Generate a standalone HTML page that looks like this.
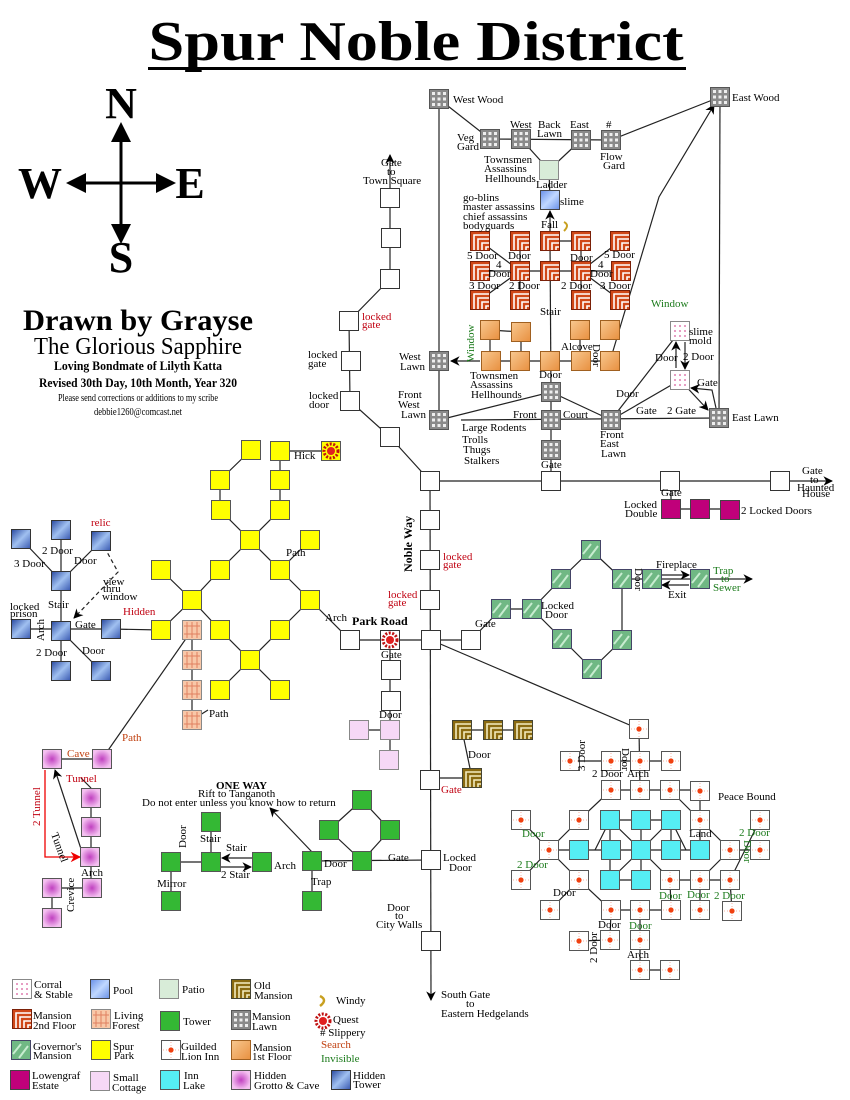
<!DOCTYPE html>
<html><head><meta charset="utf-8"><style>
body{margin:0;background:#fff}
svg{display:block}
text{font-family:"Liberation Serif",serif;font-size:11px;fill:#000}
.r{fill:#c00010}.g{fill:#1a7a1a}.o{fill:#c04010}
</style></head><body>
<svg width="850" height="1100" viewBox="0 0 850 1100" xmlns="http://www.w3.org/2000/svg">
<defs>
<marker id="ar" viewBox="0 0 10 10" refX="9" refY="5" markerWidth="8" markerHeight="8" orient="auto-start-reverse"><path d="M0 0L10 5L0 10L3 5z" fill="#000"/></marker>
<marker id="arr" viewBox="0 0 10 10" refX="9" refY="5" markerWidth="8" markerHeight="8" orient="auto"><path d="M0 0L10 5L0 10L3 5z" fill="#e00"/></marker>
<linearGradient id="gm1" x1="0" y1="0" x2="1" y2="1"><stop offset="0" stop-color="#f8c890"/><stop offset="1" stop-color="#e89040"/></linearGradient>
<linearGradient id="ght" x1="0" y1="0" x2="1" y2="1"><stop offset="0" stop-color="#2848a0"/><stop offset=".5" stop-color="#a0c0f0"/><stop offset="1" stop-color="#3858b0"/></linearGradient>
<linearGradient id="gpo" x1="0" y1="0" x2="1" y2="1"><stop offset="0" stop-color="#6890e8"/><stop offset=".5" stop-color="#c0d8ff"/><stop offset="1" stop-color="#6890e8"/></linearGradient>
<radialGradient id="ggr"><stop offset="0" stop-color="#c040c0"/><stop offset="1" stop-color="#f4c0f0"/></radialGradient>
<symbol id="wh" viewBox="0 0 20 20" width="20" height="20"><rect x=".5" y=".5" width="19" height="19" fill="#fff" stroke="#333"/></symbol>
<symbol id="lawn" viewBox="0 0 20 20" width="20" height="20"><rect x=".5" y=".5" width="19" height="19" fill="#8a8a8a" stroke="#555"/><g fill="#eee"><rect x="3" y="3" width="3" height="3"/><rect x="8.5" y="3" width="3" height="3"/><rect x="14" y="3" width="3" height="3"/><rect x="3" y="8.5" width="3" height="3"/><rect x="8.5" y="8.5" width="3" height="3"/><rect x="14" y="8.5" width="3" height="3"/><rect x="3" y="14" width="3" height="3"/><rect x="8.5" y="14" width="3" height="3"/><rect x="14" y="14" width="3" height="3"/></g></symbol>
<symbol id="m2" viewBox="0 0 20 20" width="20" height="20"><rect x=".5" y=".5" width="19" height="19" fill="#d04818" stroke="#7a2008"/><path d="M4 19V4H19M8 19V8H19M12 19V12H19M16 19V16H19" stroke="#fff" stroke-width="1.6" fill="none"/></symbol>
<symbol id="old" viewBox="0 0 20 20" width="20" height="20"><rect x=".5" y=".5" width="19" height="19" fill="#8a6a10" stroke="#443"/><path d="M4 19V4H19M8 19V8H19M12 19V12H19M16 19V16H19" stroke="#f4ecc0" stroke-width="1.6" fill="none"/></symbol>
<symbol id="m1" viewBox="0 0 20 20" width="20" height="20"><rect x=".5" y=".5" width="19" height="19" fill="url(#gm1)" stroke="#a06020"/></symbol>
<symbol id="gov" viewBox="0 0 20 20" width="20" height="20"><rect x=".5" y=".5" width="19" height="19" fill="#70b884" stroke="#446"/><path d="M2 14L10 4M8 18L17 6" stroke="#c8ecd0" stroke-width="2"/></symbol>
<symbol id="yel" viewBox="0 0 20 20" width="20" height="20"><rect x=".5" y=".5" width="19" height="19" fill="#ffff00" stroke="#555"/></symbol>
<symbol id="tow" viewBox="0 0 20 20" width="20" height="20"><rect x=".5" y=".5" width="19" height="19" fill="#34b834" stroke="#555"/></symbol>
<symbol id="inn" viewBox="0 0 20 20" width="20" height="20"><rect x=".5" y=".5" width="19" height="19" fill="#fff" stroke="#555"/><path d="M10 2V18M2 10H18" stroke="#f8b0a0" stroke-dasharray="1 2"/><circle cx="10" cy="10" r="2.6" fill="#f04010"/></symbol>
<symbol id="lake" viewBox="0 0 20 20" width="20" height="20"><rect x=".5" y=".5" width="19" height="19" fill="#55eef4" stroke="#555"/></symbol>
<symbol id="grot" viewBox="0 0 20 20" width="20" height="20"><rect x=".5" y=".5" width="19" height="19" fill="url(#ggr)" stroke="#555"/></symbol>
<symbol id="cot" viewBox="0 0 20 20" width="20" height="20"><rect x=".5" y=".5" width="19" height="19" fill="#f6d8f6" stroke="#888"/></symbol>
<symbol id="ht" viewBox="0 0 20 20" width="20" height="20"><rect x=".5" y=".5" width="19" height="19" fill="url(#ght)" stroke="#333"/></symbol>
<symbol id="lf" viewBox="0 0 20 20" width="20" height="20"><rect x=".5" y=".5" width="19" height="19" fill="#f8c8a8" stroke="#888"/><path d="M5 2V18M10 2V18M15 2V18M2 6H18M2 14H18" stroke="#e08060" fill="none"/></symbol>
<symbol id="cor" viewBox="0 0 20 20" width="20" height="20"><rect x=".5" y=".5" width="19" height="19" fill="#fff" stroke="#888"/><g fill="#e080b0"><circle cx="5" cy="5" r="1"/><circle cx="10" cy="5" r="1"/><circle cx="15" cy="5" r="1"/><circle cx="5" cy="10" r="1"/><circle cx="10" cy="10" r="1"/><circle cx="15" cy="10" r="1"/><circle cx="5" cy="15" r="1"/><circle cx="10" cy="15" r="1"/><circle cx="15" cy="15" r="1"/></g></symbol>
<symbol id="low" viewBox="0 0 20 20" width="20" height="20"><rect x=".5" y=".5" width="19" height="19" fill="#c0007a" stroke="#444"/></symbol>
<symbol id="pool" viewBox="0 0 20 20" width="20" height="20"><rect x=".5" y=".5" width="19" height="19" fill="url(#gpo)" stroke="#444"/></symbol>
<symbol id="pat" viewBox="0 0 20 20" width="20" height="20"><rect x=".5" y=".5" width="19" height="19" fill="#d8ecd8" stroke="#888"/></symbol>
<symbol id="sun" viewBox="0 0 20 20" width="20" height="20"><circle cx="10" cy="10" r="7" fill="none" stroke="#c01010" stroke-width="3" stroke-dasharray="2 1.5"/><circle cx="10" cy="10" r="4" fill="#e02020"/></symbol>
</defs>

<!-- Title -->
<text x="416" y="60" text-anchor="middle" style="font-size:56px;font-weight:bold" textLength="535" lengthAdjust="spacingAndGlyphs">Spur Noble District</text>
<rect x="148" y="67" width="538" height="3" fill="#000"/>

<!-- Compass -->
<g stroke="#000" stroke-width="3" fill="none"><line x1="121" y1="136" x2="121" y2="230"/><line x1="76" y1="183" x2="166" y2="183"/></g>
<g fill="#000"><path d="M121 122L111 142H131z"/><path d="M121 244L111 224H131z"/><path d="M66 183L86 173V193z"/><path d="M176 183L156 173V193z"/></g>
<g style="font-size:44px;font-weight:bold" text-anchor="middle"><text x="121" y="118" style="font-size:44px;font-weight:bold">N</text><text x="40" y="198" style="font-size:44px;font-weight:bold">W</text><text x="190" y="198" style="font-size:44px;font-weight:bold">E</text><text x="121" y="272" style="font-size:44px;font-weight:bold">S</text></g>

<!-- Author block -->
<g text-anchor="middle">
<text x="138" y="330" style="font-size:30px;font-weight:bold" textLength="230" lengthAdjust="spacingAndGlyphs">Drawn by Grayse</text>
<text x="138" y="354" style="font-size:24px" textLength="208" lengthAdjust="spacingAndGlyphs">The Glorious Sapphire</text>
<text x="138" y="370" style="font-size:13px;font-weight:bold" textLength="168" lengthAdjust="spacingAndGlyphs">Loving Bondmate of Lilyth Katta</text>
<text x="138" y="387" style="font-size:13px;font-weight:bold" textLength="198" lengthAdjust="spacingAndGlyphs">Revised 30th Day, 10th Month, Year 320</text>
<text x="138" y="401" style="font-size:10px" textLength="160" lengthAdjust="spacingAndGlyphs">Please send corrections or additions to my scribe</text>
<text x="138" y="415" style="font-size:11px" textLength="88" lengthAdjust="spacingAndGlyphs">debbie1260@comcast.net</text>
</g>

<!-- Connectors -->
<g stroke="#222" stroke-width="1.2" fill="none">
<!-- Noble Way -->
<line x1="390" y1="155" x2="390" y2="279" marker-start="url(#ar)"/>
<polyline points="390,279 349,321 350,401 390,437 430,481"/>
<line x1="430" y1="481" x2="431" y2="1000" marker-end="url(#ar)"/>
<line x1="430" y1="481" x2="832" y2="481" marker-end="url(#ar)"/>
<line x1="350" y1="640" x2="471" y2="640"/>
<line x1="350" y1="640" x2="310" y2="600"/>
<line x1="390" y1="640" x2="390" y2="760"/>
<line x1="359" y1="730" x2="390" y2="730"/>
<line x1="431" y1="640" x2="639" y2="729"/>
<line x1="431" y1="778" x2="472" y2="778"/>
<line x1="472" y1="778" x2="462" y2="730"/>
<line x1="462" y1="730" x2="523" y2="730"/>
<line x1="312" y1="861" x2="431" y2="860"/>
<line x1="551" y1="481" x2="551" y2="450"/>
<line x1="671" y1="481" x2="671" y2="509"/>
<line x1="671" y1="509" x2="731" y2="509"/>
<!-- Mansion lawns -->
<line x1="439" y1="99" x2="439" y2="420"/>
<polyline points="439,99 490,139 611,140 720,97"/>
<polyline points="521,139 549,170 581,140"/>
<line x1="549" y1="170" x2="550" y2="200"/>
<line x1="550" y1="241" x2="550" y2="211" marker-end="url(#ar)"/>
<line x1="550" y1="241" x2="551" y2="392"/>
<line x1="720" y1="97" x2="719" y2="418"/>
<polyline points="439,420 551,392 611,420"/>
<line x1="461" y1="420" x2="719" y2="418"/>
<line x1="551" y1="392" x2="551" y2="450"/>
<line x1="611" y1="420" x2="680" y2="331"/>
<line x1="611" y1="420" x2="680" y2="380"/>
<line x1="680" y1="380" x2="708" y2="410" marker-end="url(#ar)"/>
<polyline points="716,408 712,390 691,388" marker-end="url(#ar)"/>
<line x1="676" y1="368" x2="676" y2="342" marker-end="url(#ar)"/>
<line x1="685" y1="342" x2="685" y2="369" marker-end="url(#ar)"/>
<polyline points="610,361 659,197 714,105" marker-end="url(#ar)"/>
<line x1="480" y1="361" x2="451" y2="361" marker-end="url(#ar)"/>
<!-- 2nd floor -->
<line x1="550" y1="241" x2="581" y2="241"/>
<line x1="480" y1="241" x2="520" y2="271"/><line x1="520" y1="241" x2="520" y2="300"/>
<line x1="581" y1="241" x2="581" y2="300"/><line x1="620" y1="241" x2="581" y2="271"/>
<line x1="480" y1="271" x2="620" y2="271"/>
<line x1="480" y1="300" x2="520" y2="271"/><line x1="620" y1="300" x2="581" y2="271"/>
<!-- 1st floor -->
<polyline points="490,361 490,330 521,332 521,361"/>
<line x1="580" y1="330" x2="580" y2="361"/>
<line x1="491" y1="361" x2="610" y2="361"/>
<!-- Gov mansion -->
<polyline points="471,640 501,609 532,609 561,579 591,550 622,579 622,640 592,669 562,639 532,609"/>
<line x1="622" y1="579" x2="700" y2="579"/>
<line x1="662" y1="575" x2="689" y2="575" marker-end="url(#ar)"/>
<line x1="689" y1="585" x2="662" y2="585" marker-end="url(#ar)"/>
<line x1="700" y1="579" x2="752" y2="579" marker-end="url(#ar)"/>
<!-- Spur park -->
<polyline points="251,450 220,480 220,510 250,540 280,510 280,451 331,451"/>
<polyline points="161,570 192,600 220,570 250,540 280,570 310,540"/>
<polyline points="280,570 310,600 280,630 250,660 220,630 192,600 161,630 111,629"/>
<polyline points="220,690 250,660 280,690"/>
<line x1="192" y1="630" x2="192" y2="720"/><line x1="192" y1="720" x2="208" y2="710"/>
<line x1="192" y1="630" x2="102" y2="759"/>
<!-- Hidden tower -->
<line x1="61" y1="530" x2="61" y2="671"/>
<line x1="21" y1="539" x2="61" y2="581"/><line x1="101" y1="541" x2="61" y2="581"/>
<line x1="21" y1="629" x2="111" y2="629"/><line x1="61" y1="631" x2="101" y2="671"/>
<polyline points="101,541 118,572 74,618" stroke-dasharray="4 3" marker-end="url(#ar)"/>
<!-- Grotto -->
<line x1="52" y1="759" x2="102" y2="759"/>
<line x1="91" y1="788" x2="91" y2="888"/>
<line x1="81" y1="778" x2="91" y2="788"/>
<line x1="82" y1="852" x2="55" y2="770" marker-end="url(#ar)"/>
<line x1="52" y1="888" x2="92" y2="888"/><line x1="52" y1="888" x2="52" y2="918"/>
<!-- Tower -->
<polyline points="362,861 329,830 362,800 390,830 362,861"/>
<line x1="312" y1="861" x2="312" y2="901"/>
<line x1="312" y1="852" x2="270" y2="808" marker-end="url(#ar)"/>
<line x1="211" y1="822" x2="211" y2="862"/>
<line x1="171" y1="862" x2="211" y2="862"/><line x1="171" y1="862" x2="171" y2="901"/>
<line x1="252" y1="858" x2="222" y2="858" marker-end="url(#ar)"/>
<line x1="221" y1="867" x2="251" y2="867" marker-end="url(#ar)"/>
<!-- Inn -->
<line x1="639" y1="729" x2="640" y2="790"/>
<line x1="570" y1="761" x2="671" y2="761"/>
<line x1="611" y1="790" x2="700" y2="790"/>
<polyline points="611,790 579,820 549,850 579,880 611,910 671,910"/>
<polyline points="670,790 700,820 730,850 700,880"/>
<line x1="700" y1="791" x2="700" y2="850"/>
<line x1="670" y1="880" x2="730" y2="880"/><line x1="730" y1="850" x2="760" y2="850"/><line x1="730" y1="880" x2="760" y2="820"/>
<line x1="521" y1="820" x2="549" y2="850"/><line x1="521" y1="880" x2="549" y2="850"/>
<line x1="549" y1="850" x2="579" y2="850"/>
<line x1="550" y1="910" x2="579" y2="880"/>
<line x1="670" y1="880" x2="671" y2="910"/><line x1="700" y1="880" x2="700" y2="910"/><line x1="730" y1="880" x2="732" y2="911"/>
<line x1="611" y1="910" x2="610" y2="940"/><line x1="640" y1="910" x2="640" y2="970"/>
<line x1="579" y1="941" x2="610" y2="940"/><line x1="640" y1="970" x2="670" y2="970"/>
<line x1="610" y1="820" x2="671" y2="820"/><line x1="579" y1="850" x2="700" y2="850"/><line x1="610" y1="880" x2="641" y2="880"/>
<line x1="610" y1="820" x2="610" y2="880"/><line x1="641" y1="820" x2="641" y2="880"/><line x1="671" y1="820" x2="671" y2="850"/>
<polyline points="595,850 610,820 641,850 610,880" /><polyline points="686,850 671,820 641,850 671,880"/>
</g>
<polyline points="45,770 45,857 80,857" stroke="#e00" stroke-width="1.3" fill="none" marker-end="url(#arr)"/>

<!-- Nodes -->
<g>
<use href="#wh" x="380" y="188"/><use href="#wh" x="381" y="228"/><use href="#wh" x="380" y="269"/>
<use href="#wh" x="339" y="311"/><use href="#wh" x="341" y="351"/><use href="#wh" x="340" y="391"/>
<use href="#wh" x="380" y="427"/><use href="#wh" x="420" y="471"/><use href="#wh" x="420" y="510"/>
<use href="#wh" x="420" y="550"/><use href="#wh" x="420" y="590"/><use href="#wh" x="421" y="630"/>
<use href="#wh" x="420" y="770"/><use href="#wh" x="421" y="850"/><use href="#wh" x="421" y="931"/>
<use href="#wh" x="541" y="471"/><use href="#wh" x="660" y="471"/><use href="#wh" x="770" y="471"/>
<use href="#wh" x="340" y="630"/><use href="#wh" x="380" y="630"/><use href="#sun" x="380" y="630"/>
<use href="#wh" x="461" y="630"/>
<use href="#wh" x="381" y="660"/><use href="#wh" x="381" y="691"/>
<use href="#cot" x="349" y="720"/><use href="#cot" x="380" y="720"/><use href="#cot" x="379" y="750"/>
<use href="#low" x="661" y="499"/><use href="#low" x="690" y="499"/><use href="#low" x="720" y="500"/>
<use href="#old" x="452" y="720"/><use href="#old" x="483" y="720"/><use href="#old" x="513" y="720"/><use href="#old" x="462" y="768"/>
<!-- gov -->
<use href="#gov" x="491" y="599"/><use href="#gov" x="522" y="599"/><use href="#gov" x="551" y="569"/><use href="#gov" x="581" y="540"/><use href="#gov" x="612" y="569"/><use href="#gov" x="642" y="569"/><use href="#gov" x="690" y="569"/><use href="#gov" x="552" y="629"/><use href="#gov" x="612" y="630"/><use href="#gov" x="582" y="659"/>
<!-- lawns -->
<use href="#lawn" x="429" y="89"/><use href="#lawn" x="710" y="87"/><use href="#lawn" x="480" y="129"/><use href="#lawn" x="511" y="129"/><use href="#lawn" x="571" y="130"/><use href="#lawn" x="601" y="130"/>
<use href="#pat" x="539" y="160"/><use href="#pool" x="540" y="190"/>
<use href="#lawn" x="429" y="351"/><use href="#lawn" x="541" y="382"/><use href="#lawn" x="429" y="410"/><use href="#lawn" x="541" y="410"/><use href="#lawn" x="541" y="440"/><use href="#lawn" x="601" y="410"/><use href="#lawn" x="709" y="408"/>
<use href="#cor" x="670" y="321"/><use href="#cor" x="670" y="370"/>
<!-- mansion 2 -->
<use href="#m2" x="470" y="231"/><use href="#m2" x="510" y="231"/><use href="#m2" x="540" y="231"/><use href="#m2" x="571" y="231"/><use href="#m2" x="610" y="231"/>
<use href="#m2" x="470" y="261"/><use href="#m2" x="510" y="261"/><use href="#m2" x="540" y="261"/><use href="#m2" x="571" y="261"/><use href="#m2" x="611" y="261"/>
<use href="#m2" x="470" y="290"/><use href="#m2" x="510" y="290"/><use href="#m2" x="571" y="290"/><use href="#m2" x="610" y="290"/>
<!-- mansion 1 -->
<use href="#m1" x="480" y="320"/><use href="#m1" x="511" y="322"/><use href="#m1" x="570" y="320"/><use href="#m1" x="600" y="320"/>
<use href="#m1" x="481" y="351"/><use href="#m1" x="510" y="351"/><use href="#m1" x="540" y="351"/><use href="#m1" x="571" y="351"/><use href="#m1" x="600" y="351"/>
<!-- park -->
<use href="#yel" x="241" y="440"/><use href="#yel" x="270" y="441"/><use href="#yel" x="321" y="441"/><use href="#sun" x="321" y="441"/>
<use href="#yel" x="210" y="470"/><use href="#yel" x="270" y="470"/><use href="#yel" x="211" y="500"/><use href="#yel" x="270" y="500"/>
<use href="#yel" x="240" y="530"/><use href="#yel" x="300" y="530"/>
<use href="#yel" x="151" y="560"/><use href="#yel" x="210" y="560"/><use href="#yel" x="270" y="560"/>
<use href="#yel" x="182" y="590"/><use href="#yel" x="300" y="590"/>
<use href="#yel" x="151" y="620"/><use href="#yel" x="210" y="620"/><use href="#yel" x="270" y="620"/>
<use href="#yel" x="240" y="650"/><use href="#yel" x="210" y="680"/><use href="#yel" x="270" y="680"/>
<use href="#lf" x="182" y="620"/><use href="#lf" x="182" y="650"/><use href="#lf" x="182" y="680"/><use href="#lf" x="182" y="710"/>
<!-- hidden tower -->
<use href="#ht" x="11" y="529"/><use href="#ht" x="51" y="520"/><use href="#ht" x="91" y="531"/><use href="#ht" x="51" y="571"/><use href="#ht" x="11" y="619"/><use href="#ht" x="51" y="621"/><use href="#ht" x="101" y="619"/><use href="#ht" x="51" y="661"/><use href="#ht" x="91" y="661"/>
<!-- grotto -->
<use href="#grot" x="42" y="749"/><use href="#grot" x="92" y="749"/><use href="#grot" x="81" y="788"/><use href="#grot" x="81" y="817"/><use href="#grot" x="80" y="847"/><use href="#grot" x="42" y="878"/><use href="#grot" x="82" y="878"/><use href="#grot" x="42" y="908"/>
<!-- tower -->
<use href="#tow" x="352" y="790"/><use href="#tow" x="319" y="820"/><use href="#tow" x="380" y="820"/><use href="#tow" x="352" y="851"/><use href="#tow" x="302" y="851"/><use href="#tow" x="252" y="852"/><use href="#tow" x="201" y="852"/><use href="#tow" x="161" y="852"/><use href="#tow" x="201" y="812"/><use href="#tow" x="161" y="891"/><use href="#tow" x="302" y="891"/>
<!-- inn -->
<use href="#inn" x="629" y="719"/>
<use href="#inn" x="560" y="751"/><use href="#inn" x="601" y="751"/><use href="#inn" x="630" y="751"/><use href="#inn" x="661" y="751"/>
<use href="#inn" x="601" y="780"/><use href="#inn" x="630" y="780"/><use href="#inn" x="660" y="780"/><use href="#inn" x="690" y="781"/>
<use href="#inn" x="511" y="810"/><use href="#inn" x="569" y="810"/><use href="#inn" x="690" y="810"/><use href="#inn" x="750" y="810"/>
<use href="#inn" x="539" y="840"/><use href="#inn" x="720" y="840"/><use href="#inn" x="750" y="840"/>
<use href="#inn" x="511" y="870"/><use href="#inn" x="569" y="870"/><use href="#inn" x="660" y="870"/><use href="#inn" x="690" y="870"/><use href="#inn" x="720" y="870"/>
<use href="#inn" x="540" y="900"/><use href="#inn" x="601" y="900"/><use href="#inn" x="630" y="900"/><use href="#inn" x="661" y="900"/><use href="#inn" x="690" y="900"/><use href="#inn" x="722" y="901"/>
<use href="#inn" x="569" y="931"/><use href="#inn" x="600" y="930"/><use href="#inn" x="630" y="930"/>
<use href="#inn" x="630" y="960"/><use href="#inn" x="660" y="960"/>
<use href="#lake" x="600" y="810"/><use href="#lake" x="631" y="810"/><use href="#lake" x="661" y="810"/>
<use href="#lake" x="569" y="840"/><use href="#lake" x="601" y="840"/><use href="#lake" x="631" y="840"/><use href="#lake" x="661" y="840"/><use href="#lake" x="690" y="840"/>
<use href="#lake" x="600" y="870"/><use href="#lake" x="631" y="870"/>
</g>

<!-- Labels -->
<g>
<text x="453" y="103">West Wood</text><text x="732" y="101">East Wood</text>
<text x="457" y="141">Veg</text><text x="457" y="150">Gard</text>
<text x="510" y="128">West</text><text x="538" y="128">Back</text><text x="537" y="137">Lawn</text><text x="570" y="128">East</text><text x="606" y="128">#</text>
<text x="600" y="160">Flow</text><text x="603" y="169">Gard</text>
<text x="484" y="163">Townsmen</text><text x="484" y="172">Assassins</text><text x="485" y="182">Hellhounds</text>
<text x="536" y="188">Ladder</text><text x="560" y="205">slime</text>
<text x="463" y="201">go-blins</text><text x="463" y="210">master assassins</text><text x="463" y="220">chief assassins</text><text x="463" y="229">bodyguards</text>
<text x="541" y="228">Fall</text><path d="M564 222q6 3 0 9" stroke="#c8a020" stroke-width="2" fill="none"/>
<text x="467" y="259">5 Door</text><text x="508" y="259">Door</text><text x="570" y="261">Door</text><text x="604" y="258">5 Door</text>
<text x="496" y="268">4</text><text x="488" y="277">Door</text><text x="598" y="268">4</text><text x="590" y="277">Door</text>
<text x="469" y="289">3 Door</text><text x="509" y="289">2 Door</text><text x="561" y="289">2 Door</text><text x="600" y="289">3 Door</text>
<text x="540" y="315">Stair</text><text x="561" y="350">Alcove</text>
<text x="651" y="307" class="g">Window</text>
<text x="689" y="335">slime</text><text x="689" y="344">mold</text>
<text x="655" y="361">Door</text><text x="683" y="360">2 Door</text><text x="697" y="386">Gate</text>
<text x="616" y="397">Door</text><text x="636" y="414">Gate</text><text x="667" y="414">2 Gate</text><text x="732" y="421">East Lawn</text>
<text x="399" y="360">West</text><text x="400" y="370">Lawn</text>
<text x="398" y="398">Front</text><text x="398" y="408">West</text><text x="401" y="418">Lawn</text>
<text x="470" y="379">Townsmen</text><text x="470" y="388">Assassins</text><text x="471" y="398">Hellhounds</text>
<text x="539" y="378">Door</text>
<text x="513" y="418">Front</text><text x="563" y="418">Court</text>
<text x="600" y="438">Front</text><text x="600" y="447">East</text><text x="601" y="457">Lawn</text>
<text x="462" y="431">Large Rodents</text><text x="462" y="443">Trolls</text><text x="463" y="453">Thugs</text><text x="464" y="464">Stalkers</text>
<text x="541" y="468">Gate</text>
<text transform="translate(474,362) rotate(-90)" class="g">Window</text>
<text transform="translate(593,344) rotate(90)">Door</text>
<text x="381" y="166">Gate</text><text x="387" y="175">to</text><text x="363" y="184">Town Square</text>
<text x="362" y="320" class="r">locked</text><text x="362" y="328" class="r">gate</text>
<text x="308" y="358">locked</text><text x="308" y="367">gate</text>
<text x="309" y="399">locked</text><text x="309" y="408">door</text>
<text x="443" y="560" class="r">locked</text><text x="443" y="568" class="r">gate</text>
<text x="388" y="598" class="r">locked</text><text x="388" y="606" class="r">gate</text>
<text transform="translate(412,572) rotate(-90)" style="font-weight:bold;font-size:12px">Noble Way</text>
<text x="802" y="474">Gate</text><text x="810" y="483">to</text><text x="797" y="491">Haunted</text><text x="802" y="497">House</text>
<text x="661" y="496">Gate</text>
<text x="624" y="508">Locked</text><text x="625" y="517">Double</text><text x="741" y="514">2 Locked Doors</text>
<text x="541" y="609">Locked</text><text x="545" y="618">Door</text>
<text x="475" y="627">Gate</text>
<text x="656" y="568">Fireplace</text><text x="668" y="598">Exit</text>
<text x="713" y="574" class="g">Trap</text><text x="721" y="582" class="g">to</text><text x="713" y="591" class="g">Sewer</text>
<text transform="translate(635,568) rotate(90)">Door</text>
<text x="325" y="621">Arch</text><text x="352" y="625" style="font-weight:bold;font-size:12px">Park Road</text>
<text x="381" y="658">Gate</text><text x="379" y="718">Door</text>
<text x="294" y="459">Hick</text><text x="286" y="556">Path</text><text x="209" y="717">Path</text>
<text x="123" y="615" class="r">Hidden</text><text x="122" y="741" class="o">Path</text>
<text x="91" y="526" class="r">relic</text>
<text x="42" y="554">2 Door</text><text x="14" y="567">3 Door</text><text x="74" y="564">Door</text>
<text x="48" y="608">Stair</text>
<text x="103" y="585">view</text><text x="103" y="592">thru</text><text x="102" y="600">window</text>
<text x="10" y="610">locked</text><text x="10" y="617">prison</text>
<text transform="translate(44,641) rotate(-90)">Arch</text>
<text x="75" y="628">Gate</text><text x="36" y="656">2 Door</text><text x="82" y="654">Door</text>
<text x="67" y="757" class="o">Cave</text><text x="66" y="782" class="r">Tunnel</text>
<text transform="translate(40,826) rotate(-90)" class="r">2 Tunnel</text>
<text transform="translate(51,834) rotate(70)">Tunnel</text>
<text x="81" y="876">Arch</text>
<text transform="translate(74,912) rotate(-90)">Crevice</text>
<text x="216" y="789" style="font-weight:bold">ONE WAY</text>
<text x="198" y="797">Rift to Tanganoth</text>
<text x="142" y="806">Do not enter unless you know how to return</text>
<text x="200" y="842">Stair</text><text x="226" y="851">Stair</text>
<text x="221" y="878">2 Stair</text><text x="274" y="869">Arch</text>
<text transform="translate(186,848) rotate(-90)">Door</text>
<text x="157" y="887">Mirror</text><text x="324" y="867">Door</text><text x="311" y="885">Trap</text>
<text x="388" y="861">Gate</text>
<text x="443" y="861">Locked</text><text x="449" y="871">Door</text>
<text x="387" y="911">Door</text><text x="395" y="919">to</text><text x="376" y="928">City Walls</text>
<text x="441" y="998">South Gate</text><text x="466" y="1007">to</text><text x="441" y="1017">Eastern Hedgelands</text>
<text x="468" y="758">Door</text><text x="441" y="793" class="r">Gate</text>
<text transform="translate(585,771) rotate(-90)">3 Door</text>
<text transform="translate(622,748) rotate(90)">Door</text>
<text x="592" y="777">2 Door</text><text x="627" y="777">Arch</text>
<text x="718" y="800">Peace Bound</text><text x="689" y="837">Land</text>
<text x="522" y="837" class="g">Door</text><text x="517" y="868" class="g">2 Door</text>
<text x="739" y="836" class="g">2 Door</text>
<text transform="translate(744,840) rotate(90)" class="g">Door</text>
<text x="659" y="899" class="g">Door</text><text x="687" y="898" class="g">Door</text><text x="714" y="899" class="g">2 Door</text>
<text x="553" y="896">Door</text><text x="598" y="928">Door</text><text x="629" y="929" class="g">Door</text>
<text transform="translate(597,963) rotate(-90)">2 Door</text>
<text x="627" y="958">Arch</text>
</g>

<!-- Legend -->
<g>
<use href="#cor" x="12" y="979"/><text x="34" y="988">Corral</text><text x="34" y="998">&amp; Stable</text>
<use href="#pool" x="90" y="979"/><text x="113" y="994">Pool</text>
<use href="#pat" x="159" y="979"/><text x="182" y="993">Patio</text>
<use href="#old" x="231" y="979"/><text x="254" y="989">Old</text><text x="254" y="999">Mansion</text>
<use href="#m2" x="12" y="1009"/><text x="33" y="1019">Mansion</text><text x="33" y="1029">2nd Floor</text>
<use href="#lf" x="91" y="1009"/><text x="114" y="1019">Living</text><text x="112" y="1029">Forest</text>
<use href="#tow" x="160" y="1011"/><text x="183" y="1025">Tower</text>
<use href="#lawn" x="231" y="1010"/><text x="252" y="1020">Mansion</text><text x="252" y="1030">Lawn</text>
<use href="#gov" x="11" y="1040"/><text x="33" y="1050">Governor's</text><text x="33" y="1059">Mansion</text>
<use href="#yel" x="91" y="1040"/><text x="113" y="1050">Spur</text><text x="114" y="1059">Park</text>
<use href="#inn" x="161" y="1040"/><text x="181" y="1050">Guilded</text><text x="181" y="1060">Lion Inn</text>
<use href="#m1" x="231" y="1040"/><text x="253" y="1051">Mansion</text><text x="252" y="1060">1st Floor</text>
<use href="#low" x="10" y="1070"/><text x="32" y="1079">Lowengraf</text><text x="32" y="1089">Estate</text>
<use href="#cot" x="90" y="1071"/><text x="113" y="1081">Small</text><text x="112" y="1091">Cottage</text>
<use href="#lake" x="160" y="1070"/><text x="184" y="1079">Inn</text><text x="183" y="1089">Lake</text>
<use href="#grot" x="231" y="1070"/><text x="254" y="1079">Hidden</text><text x="254" y="1089">Grotto &amp; Cave</text>
<use href="#ht" x="331" y="1070"/><text x="353" y="1079">Hidden</text><text x="353" y="1088">Tower</text>
<path d="M320 996q8 4 0 10" stroke="#c8a020" stroke-width="2.5" fill="none"/><text x="336" y="1004">Windy</text>
<use href="#sun" x="313" y="1011"/><text x="333" y="1023">Quest</text>
<text x="320" y="1036"># Slippery</text>
<text x="321" y="1048" class="o">Search</text>
<text x="321" y="1062" class="g">Invisible</text>
</g>
</svg>
</body></html>
